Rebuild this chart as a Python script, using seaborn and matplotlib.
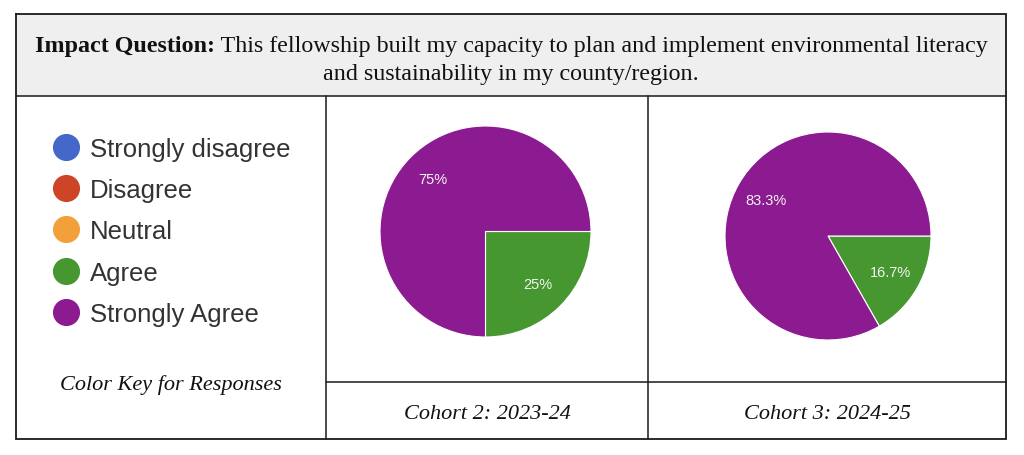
import matplotlib
matplotlib.use("Agg")
import matplotlib.pyplot as plt
from matplotlib.lines import Line2D
from matplotlib.patches import Rectangle
import numpy as np
import seaborn as sns

# Survey responses and their colour key
responses = ["Strongly disagree", "Disagree", "Neutral", "Agree", "Strongly Agree"]
response_colors = ["#4368c9", "#cd4427", "#f2a13a", "#46972f", "#8c1a91"]

# Share of answers per cohort (percent)
cohort2_pct = [0, 0, 0, 25, 75]
cohort3_pct = [0, 0, 0, 16.7, 83.3]
cohort_titles = ["Cohort 2: 2023-24", "Cohort 3: 2024-25"]

question_lead = "Impact Question:"
question_line1 = " This fellowship built my capacity to plan and implement environmental literacy"
question_line2 = "and sustainability in my county/region."
key_caption = "Color Key for Responses"

W, H = 1024, 456
SERIF = "Liberation Serif"
SANS = "Liberation Sans"


def set_plt_options():
    sns.set_theme(style="white")
    plt.rcParams['font.family'] = [SANS, 'DejaVu Sans']
    plt.rcParams['savefig.facecolor'] = 'white'


def px_axes(fig, left, top, right, bottom):
    # axes placed by pixel box (left, top, right, bottom)
    return fig.add_axes([left / W, 1 - bottom / H, (right - left) / W, (bottom - top) / H])


def fmt_pct(p):
    if p <= 0:
        return ""
    s = f"{p:.1f}".rstrip("0").rstrip(".")
    return s + "%"


def draw_pie(fig, box, values, palette):
    ax = px_axes(fig, *box)
    keep = [i for i, v in enumerate(values) if v > 0]
    vals = [values[i] for i in keep]
    cols = [palette[i] for i in keep]
    labels = [fmt_pct(v) for v in vals]
    wedges, _ = ax.pie(vals, colors=cols, startangle=0, counterclock=False,
                       wedgeprops=dict(edgecolor="white", linewidth=0.8))
    for w, lab in zip(wedges, labels):
        ang = np.deg2rad((w.theta1 + w.theta2) / 2)
        ax.text(0.7 * np.cos(ang), 0.7 * np.sin(ang), lab, color="#f4f4f4",
                ha="center", va="center", fontsize=10.5, family=SANS)
    ax.set_xlim(-1, 1)
    ax.set_ylim(-1, 1)
    ax.set_aspect("auto")
    ax.axis("off")
    return ax


def main():
    set_plt_options()
    palette = sns.color_palette(response_colors)

    fig = plt.figure(figsize=(W / 100, H / 100), dpi=100)
    grid = fig.add_axes([0, 0, 1, 1])
    grid.set_xlim(0, W)
    grid.set_ylim(H, 0)
    grid.axis("off")

    # table frame
    L, R, T, B = 16, 1006, 15, 440
    hdr_b, v1, v2, cap_t = 97, 326, 648, 383
    grid.add_patch(Rectangle((L, T), R - L, hdr_b - T, facecolor="#efefef", edgecolor="none"))
    lc = "#1a1a1a"
    grid.plot([L, R, R, L, L], [T, T, B, B, T], color=lc, lw=1.3, solid_joinstyle="miter")
    grid.plot([L, R], [hdr_b, hdr_b], color=lc, lw=1.1)
    grid.plot([v1, v1], [hdr_b, B], color=lc, lw=1.1)
    grid.plot([v2, v2], [hdr_b, B], color=lc, lw=1.1)
    grid.plot([v1, R], [cap_t, cap_t], color=lc, lw=1.1)

    # header question, bold lead + regular text centred as one line
    hsize = 17.3
    fig.canvas.draw()
    rend = fig.canvas.get_renderer()
    tb = grid.text(0, 52, question_lead, family=SERIF, weight="bold", size=hsize, color="#111111",
                   va="baseline", ha="left")
    tr = grid.text(0, 52, question_line1, family=SERIF, size=hsize, color="#111111",
                   va="baseline", ha="left")
    wb = tb.get_window_extent(rend).width
    wr = tr.get_window_extent(rend).width
    x0 = (L + R) / 2 - (wb + wr) / 2
    tb.set_x(x0)
    tr.set_x(x0 + wb)
    grid.text((L + R) / 2, 80, question_line2, family=SERIF, size=hsize, color="#111111",
              va="baseline", ha="center")

    # colour key
    handles = [Line2D([], [], ls="none", marker="o", markersize=18.5, markerfacecolor=c,
                      markeredgecolor=c) for c in palette]
    fig.legend(handles, responses, loc="upper left", bbox_to_anchor=(53 / W, 1 - 138 / H),
               frameon=False, fontsize=18.5, handlelength=1.0, handletextpad=0.45,
               labelspacing=0.67, borderpad=0, borderaxespad=0, labelcolor="#333333")
    grid.text((L + v1) / 2, 390, key_caption, family=SERIF, style="italic", size=16,
              color="#111111", ha="center", va="baseline")

    # pies
    draw_pie(fig, (380, 127, 591, 338), cohort2_pct, palette)
    draw_pie(fig, (725, 133, 931, 341), cohort3_pct, palette)
    for (a, b), title in zip([(v1, v2), (v2, R)], cohort_titles):
        grid.text((a + b) / 2, 419, title, family=SERIF, style="italic", size=16,
                  color="#111111", ha="center", va="baseline")

    fig.savefig("out.png", dpi=100)


if __name__ == "__main__":
    main()
